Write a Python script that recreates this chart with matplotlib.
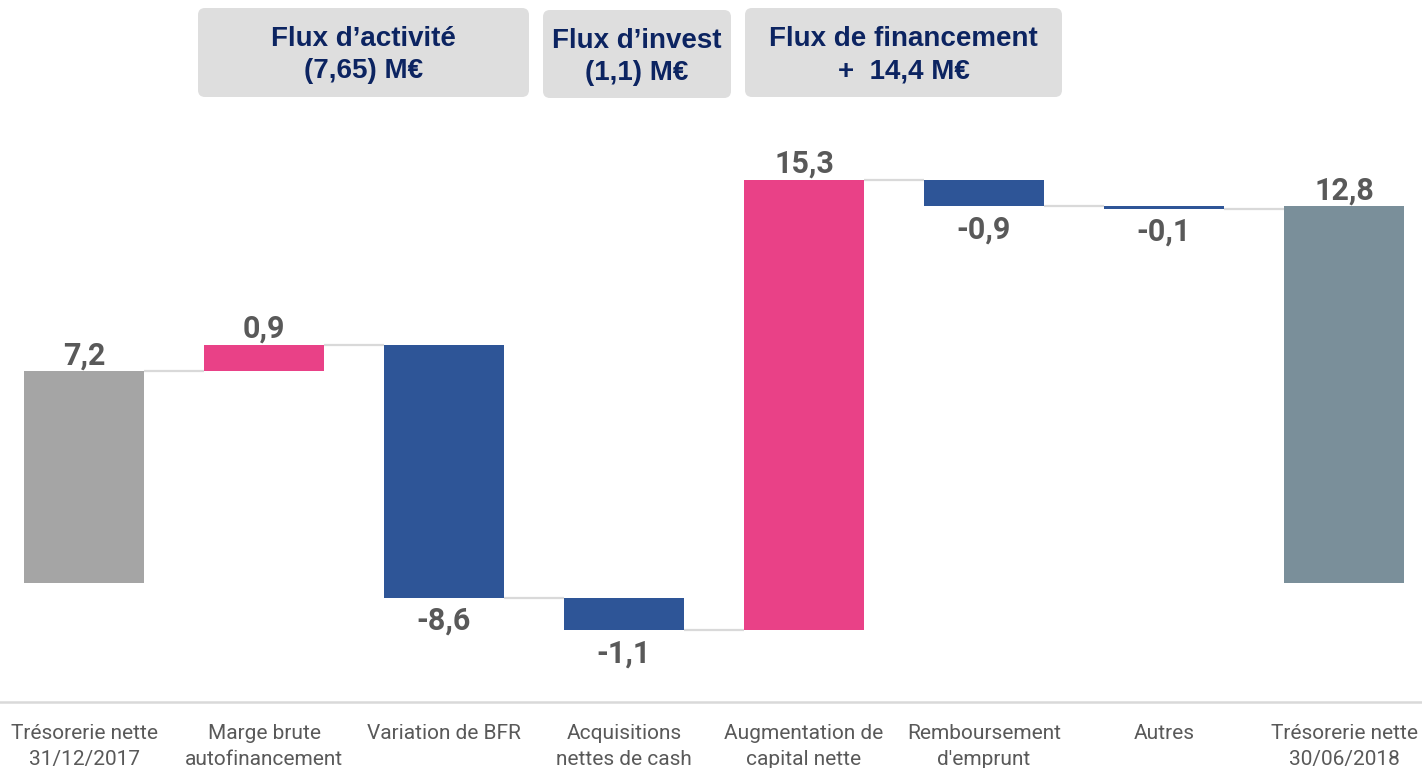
import matplotlib.pyplot as plt
from matplotlib.patches import FancyBboxPatch
from matplotlib.transforms import IdentityTransform

categories = ["Trésorerie nette\n31/12/2017", "Marge brute\nautofinancement",
              "Variation de BFR", "Acquisitions\nnettes de cash",
              "Augmentation de\ncapital nette", "Remboursement\nd'emprunt",
              "Autres", "Trésorerie nette\n30/06/2018"]
values = [7.2, 0.9, -8.6, -1.1, 15.3, -0.9, -0.1, 12.8]
kinds = ["start", "delta", "delta", "delta", "delta", "delta", "delta", "end"]
headers = ["Flux d\u2019activité\n(7,65) M€", "Flux d\u2019invest\n(1,1) M€",
           "Flux de financement\n+  14,4 M€"]

# header boxes in pixels (left, top, right, bottom)
header_boxes = [(198, 8, 529, 97), (543, 10, 731, 98), (745, 8, 1062, 97)]

C_START = "#A5A5A5"
C_END = "#7A8F9A"
C_POS = "#E94187"
C_NEG = "#2E5597"
C_LINE = "#D9D9D9"
C_TXT = "#595959"
C_NAVY = "#0C2461"

W, H = 1422, 768
fig = plt.figure(figsize=(W / 100, H / 100), dpi=100)
ax = fig.add_axes([0, 66 / H, 1, 702 / H])

width = 0.667
run = 0.0
bottoms, heights, colors, levels = [], [], [], []
for v, k in zip(values, kinds):
    if k in ("start", "end"):
        b, h = 0, v
        run = v if k == "start" else run
        colors.append(C_START if k == "start" else C_END)
    else:
        b, h = min(run, run + v), abs(v)
        run += v
        colors.append(C_POS if v > 0 else C_NEG)
    bottoms.append(b)
    heights.append(h)
    levels.append(run)

x = list(range(len(values)))
ax.bar(x, heights, bottom=bottoms, width=width, color=colors, zorder=3)

# connectors
for i in range(len(values) - 1):
    ax.plot([i + width / 2, i + 1 - width / 2], [levels[i], levels[i]],
            color=C_LINE, lw=1.6, zorder=2, solid_capstyle="butt")

# value labels
for i, (v, k) in enumerate(zip(values, kinds)):
    txt = f"{v:.1f}".replace(".", ",")
    top = bottoms[i] + heights[i]
    if v >= 0:
        ax.annotate(txt, (i, top), xytext=(0, 5), textcoords="offset points",
                    ha="center", va="baseline", fontsize=22, fontweight="bold",
                    color=C_TXT, family="Roboto")
    else:
        ax.annotate(txt, (i, bottoms[i]), xytext=(0, -23), textcoords="offset points",
                    ha="center", va="baseline", fontsize=22, fontweight="bold",
                    color=C_TXT, family="Roboto")

ax.set_xlim(-0.467, 7.433)
ax.set_ylim(-4.04, 19.8)
for s in ("top", "left", "right"):
    ax.spines[s].set_visible(False)
ax.spines["bottom"].set_color(C_LINE)
ax.spines["bottom"].set_linewidth(1.8)
ax.set_yticks([])
ax.set_xticks(x)
ax.set_xticklabels(categories, fontsize=15, color=C_TXT, family="Roboto",
                   linespacing=1.42)
ax.tick_params(axis="x", length=0, pad=16)

# header boxes
for (l, t, r, b), txt in zip(header_boxes, headers):
    patch = FancyBboxPatch((l, H - b), r - l, b - t,
                           boxstyle="round,pad=0,rounding_size=7",
                           transform=IdentityTransform(), facecolor="#DEDEDE",
                           edgecolor="none")
    fig.patches.append(patch)
    fig.text((l + r) / 2 / W, 1 - ((t + b) / 2 + 3) / H, txt, ha="center",
             va="center", fontsize=20, fontweight="bold", color=C_NAVY,
             family="Liberation Sans", linespacing=1.3)

fig.savefig("out.png", dpi=100)
